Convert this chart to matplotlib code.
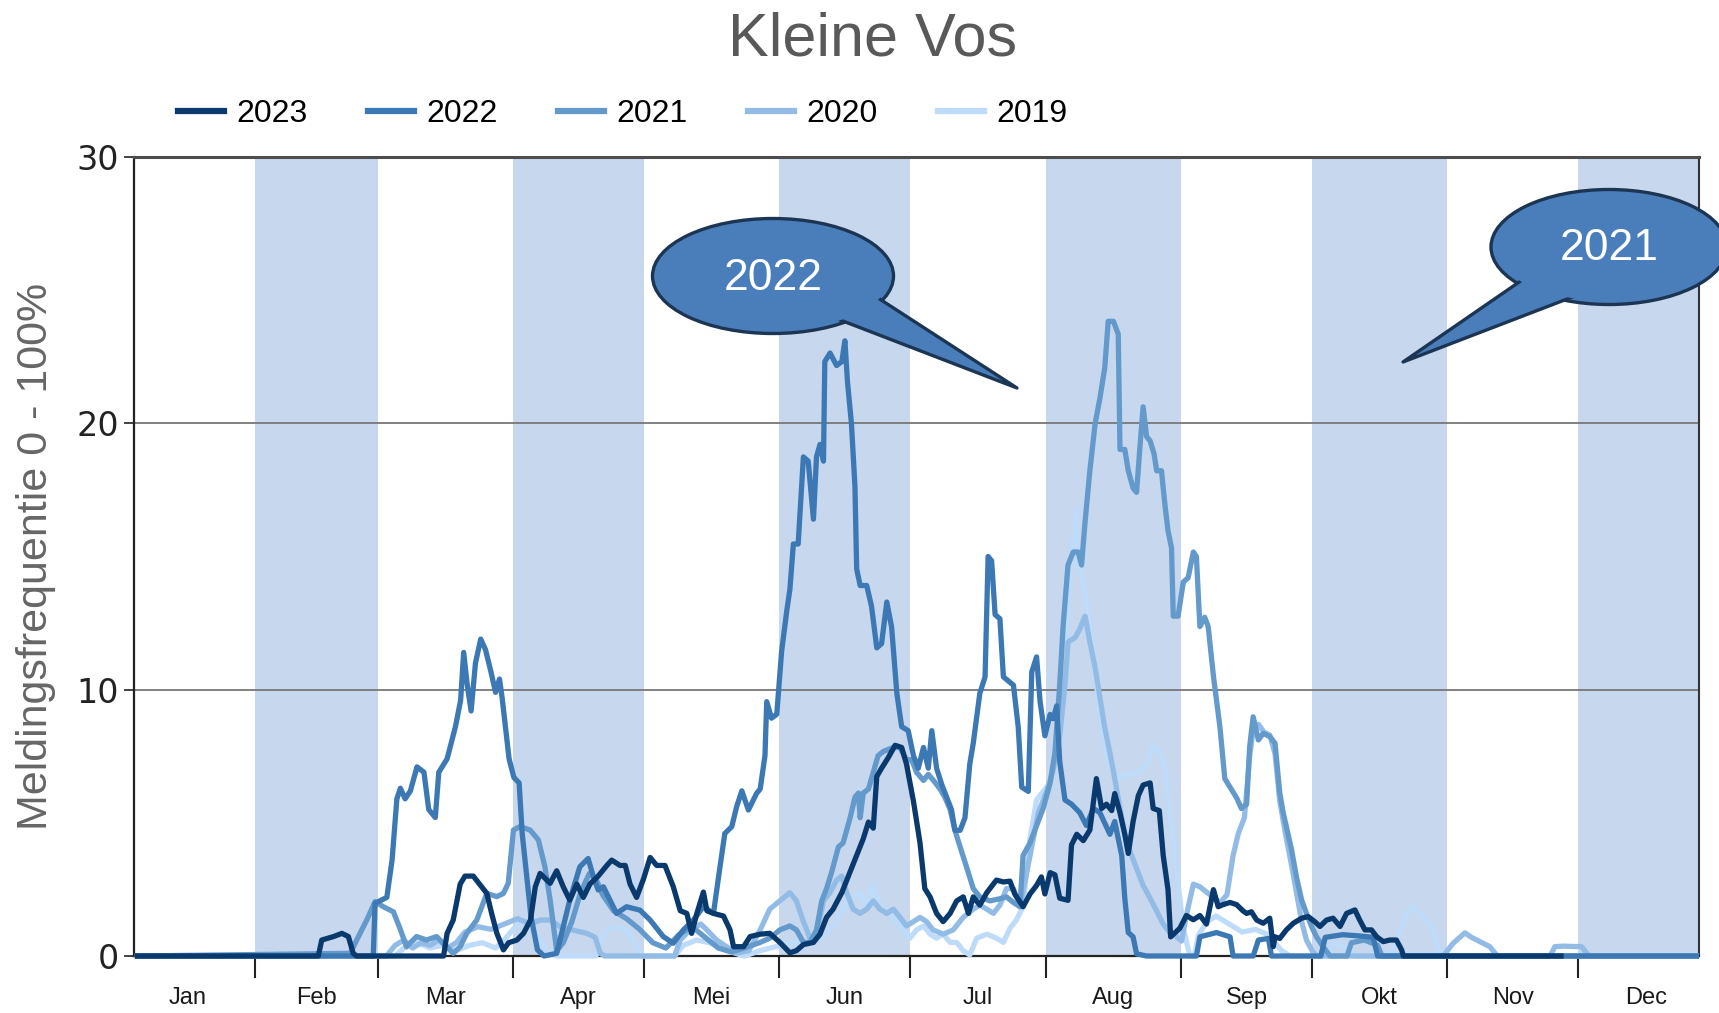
import numpy as np
import matplotlib
matplotlib.use('Agg')
import matplotlib.pyplot as plt
from matplotlib import font_manager
from matplotlib.lines import Line2D
from matplotlib.patches import Ellipse, Polygon

# (day of year, melding frequency %)
y2023 = [(5, 0), (46.4, 0), (47.2, 0.6), (49.9, 0.73), (51.8, 0.85), (53.3, 0.73), (54.4, 0.1), (55.2, 0),
         (75.1, 0), (75.9, 0.85), (77.3, 1.35), (78.9, 2.7), (80.0, 3.0), (81.9, 3.0), (83.8, 2.6), (85.0, 2.35),
         (86.1, 1.6), (87.3, 0.85), (88.8, 0.23), (90.0, 0.5), (91.9, 0.6), (93.4, 0.85), (95.0, 1.35),
         (96.1, 2.6), (97.2, 3.1), (99.5, 2.73), (101.0, 3.2), (102.5, 2.6), (104.0, 2.1), (105.6, 2.7),
         (107.1, 2.2), (108.6, 2.7), (110.5, 3.0), (112.5, 3.4), (113.6, 3.6), (115.5, 3.4), (116.7, 3.4),
         (117.8, 2.7), (119.3, 2.2), (120.9, 2.9), (122.4, 3.7), (123.9, 3.4), (125.8, 3.4), (127.7, 2.6),
         (129.3, 1.7), (130.8, 1.6), (131.9, 0.85), (133.1, 1.6), (134.6, 2.4), (135.4, 1.7), (136.9, 1.6),
         (139.2, 1.5), (140.7, 0.98), (141.5, 0.35), (143.8, 0.35), (145.3, 0.73), (147.6, 0.82), (149.8, 0.85),
         (152.1, 0.51), (154.4, 0.12), (155.9, 0.2), (157.5, 0.43), (159.8, 0.51), (161.3, 0.82), (162.8, 1.45),
         (164.3, 1.76), (166.3, 2.38), (168.2, 3.16), (169.7, 3.78), (171.2, 4.4), (172.4, 5.03), (173.5, 4.8),
         (174.3, 6.74), (175.4, 7.05), (176.9, 7.44), (178.5, 7.91), (180.0, 7.83), (181.1, 7.21), (182.7, 5.81),
         (184.2, 4.25), (185.3, 2.53), (186.5, 2.22), (188.0, 1.6), (189.5, 1.29), (191.1, 1.6), (192.6, 2.07),
         (194.1, 2.22), (195.3, 1.6), (196.4, 2.22), (197.9, 1.91), (199.5, 2.38), (201.7, 2.85), (203.3, 2.78),
         (204.8, 2.81), (205.9, 2.33), (207.8, 1.85), (209.4, 2.33), (210.9, 2.65), (212.0, 2.97), (212.8, 2.33),
         (214.0, 3.13), (215.1, 3.05), (216.2, 2.17), (218.1, 2.09), (218.9, 4.17), (220.1, 4.57), (221.6, 4.33),
         (223.1, 4.73), (224.6, 6.66), (225.8, 5.54), (226.9, 5.7), (228.1, 5.46), (228.8, 6.1), (230.0, 5.38),
         (231.1, 4.57), (231.9, 3.85), (233.0, 5.05), (234.2, 6.02), (235.3, 6.42), (236.9, 6.5), (237.6, 5.54),
         (239.0, 5.46), (239.9, 3.77), (241.0, 2.49), (241.6, 0.72), (243.7, 1.04), (245.2, 1.52), (246.8, 1.36),
         (248.3, 1.52), (249.8, 1.2), (251.4, 2.49), (252.5, 1.85), (253.6, 1.93), (255.2, 2.01), (256.7, 1.93),
         (258.2, 1.69), (259.0, 1.6), (260.1, 1.66), (261.3, 1.35), (262.8, 1.23), (264.3, 1.42), (265.1, 0.35),
         (265.5, 0.72), (266.6, 0.66), (268.1, 0.98), (269.7, 1.23), (271.6, 1.42), (273.1, 1.48), (274.6, 1.29),
         (275.8, 1.11), (277.3, 1.35), (278.8, 1.42), (280.4, 1.11), (281.9, 1.6), (283.8, 1.73), (284.9, 1.35),
         (286.1, 0.98), (287.6, 0.98), (288.8, 0.72), (290.3, 0.54), (291.8, 0.6), (293.3, 0.6), (294.5, 0.23),
         (294.9, 0), (331, 0)]

y2022 = [(5, 0), (59.0, 0), (59.4, 1.98), (62.1, 2.2), (63.3, 3.6), (64.4, 5.9), (65.2, 6.3), (66.3, 5.9),
         (67.5, 6.2), (69.0, 7.1), (70.6, 6.9), (71.7, 5.5), (73.2, 5.2), (74.0, 6.9), (75.9, 7.4), (77.8, 8.6),
         (79.0, 9.6), (79.7, 11.4), (80.5, 10.2), (81.4, 9.2), (82.4, 11.0), (83.6, 11.9), (84.7, 11.5),
         (85.9, 10.7), (87.0, 9.9), (87.9, 10.4), (88.5, 9.7), (90.1, 7.4), (91.2, 6.7), (92.4, 6.5), (93.1, 4.6),
         (95.1, 1.5), (96.6, 0.23), (98.1, 0), (101.0, 0.1), (104.0, 2.1), (106.3, 3.35), (108.2, 3.66),
         (109.4, 2.98), (110.5, 2.48), (111.7, 2.6), (113.2, 2.1), (114.7, 1.6), (117.0, 1.85), (120.1, 1.72),
         (122.4, 1.35), (125.4, 0.73), (127.7, 0.48), (130.0, 0.98), (132.3, 1.35), (134.6, 1.85), (136.9, 1.6),
         (138.4, 3.35), (139.5, 4.6), (141.1, 4.86), (142.2, 5.6), (143.4, 6.2), (144.9, 5.48), (146.8, 6.11),
         (147.6, 6.27), (148.7, 7.52), (149.1, 9.55), (150.2, 8.93), (151.4, 9.08), (152.5, 11.42), (153.7, 12.97),
         (154.4, 13.76), (155.2, 15.47), (156.3, 15.47), (157.5, 18.74), (158.6, 18.58), (159.8, 16.4),
         (160.5, 18.74), (161.3, 19.21), (162.1, 18.58), (162.4, 22.32), (163.6, 22.64), (165.1, 22.17),
         (166.3, 22.32), (167.0, 23.1), (167.6, 21.55), (168.5, 19.99), (169.3, 17.65), (169.7, 14.53),
         (170.5, 13.91), (172.0, 13.91), (173.1, 13.13), (174.3, 11.57), (175.4, 11.73), (176.6, 13.29),
         (177.7, 12.35), (178.9, 9.86), (180.0, 8.61), (181.5, 8.46), (182.7, 7.52), (183.8, 7.05), (185.0, 7.83),
         (186.1, 7.05), (186.9, 8.46), (188.0, 7.05), (189.2, 6.43), (190.3, 5.96), (191.4, 5.5), (192.2, 4.72),
         (193.4, 4.72), (194.5, 5.19), (195.6, 7.21), (196.4, 7.99), (197.9, 9.86), (199.1, 10.48), (199.8, 15.0),
         (200.6, 14.84), (201.4, 12.82), (202.5, 12.66), (203.3, 10.48), (205.6, 10.17), (206.7, 8.59),
         (207.5, 6.34), (209.0, 6.18), (209.8, 10.67), (210.9, 11.23), (211.7, 9.55), (212.8, 8.27), (214.0, 9.07),
         (214.7, 8.91), (215.5, 9.39), (216.2, 7.3), (217.4, 5.86), (218.9, 5.7), (220.8, 5.38), (222.3, 4.9),
         (223.9, 5.54), (225.4, 5.38), (227.7, 4.57), (228.8, 5.05), (230.4, 3.77), (231.1, 2.17), (231.9, 0.88),
         (233.0, 0.72), (233.8, 0.08), (236.1, 0), (247.5, 0), (248.3, 0.72), (252.1, 0.88), (255.2, 0.72),
         (255.9, 0), (260.5, 0), (261.7, 0.6), (264.0, 0.66), (264.7, 0), (276.0, 0), (277.0, 0.7), (281, 0.8),
         (285, 0.75), (288, 0.7), (289, 0), (362, 0)]

y2021 = [(5, 0), (53.7, 0.1), (55.6, 0.73), (57.5, 1.35), (59.4, 2.04), (61.3, 1.85), (63.6, 1.66), (65.1, 1.04),
         (66.6, 0.35), (68.9, 0.73), (71.2, 0.6), (73.5, 0.73), (75.8, 0.35), (77.3, 0.1), (78.9, 0.35),
         (80.4, 0.85), (82.7, 1.35), (85.0, 2.35), (87.3, 2.23), (88.8, 2.35), (89.9, 2.73), (91.1, 4.73),
         (92.6, 4.86), (94.9, 4.73), (96.8, 4.36), (98.3, 3.35), (99.5, 2.1), (101.0, 0.2), (102.5, 0.5),
         (104.5, 1.3), (106.5, 2.4), (108.5, 3.1), (110.0, 2.9), (111.5, 2.3), (114.0, 1.7), (117.0, 1.4),
         (120.0, 1.0), (123.0, 0.5), (126.0, 0.3), (129.0, 0.8), (132.0, 1.1), (135.0, 0.7), (138.0, 0.3),
         (141.0, 0.15), (144.0, 0.3), (147.6, 0.51), (149.8, 0.67), (152.1, 0.98), (154.4, 1.13), (155.9, 0.98),
         (157.5, 0.51), (159.0, 0.51), (160.5, 0.98), (161.7, 2.07), (162.8, 2.53), (164.0, 3.16), (165.5, 4.09),
         (166.6, 4.25), (168.2, 5.19), (169.3, 5.96), (170.1, 6.12), (170.5, 5.19), (171.2, 6.12), (172.4, 6.27),
         (173.5, 6.9), (174.6, 7.52), (175.8, 7.68), (176.9, 7.75), (178.1, 7.83), (179.6, 7.83), (181.1, 7.37),
         (182.3, 7.37), (183.4, 6.9), (185.0, 6.59), (186.1, 6.82), (187.3, 6.59), (188.8, 6.27), (189.9, 5.96),
         (191.1, 5.5), (192.2, 4.72), (193.4, 4.09), (194.9, 3.32), (196.4, 2.53), (197.9, 2.22), (200.2, 2.07),
         (202.5, 2.15), (204.0, 2.22), (205.6, 2.01), (207.1, 1.85), (207.8, 3.77), (209.4, 4.25), (210.9, 4.9),
         (212.4, 5.54), (214.0, 6.5), (215.1, 7.62), (216.2, 10.19), (217.0, 12.44), (218.1, 14.68),
         (219.3, 15.17), (220.4, 15.17), (221.2, 14.68), (222.0, 16.29), (223.1, 18.22), (224.3, 19.98),
         (225.4, 20.94), (226.5, 22.07), (227.3, 23.83), (228.5, 23.83), (229.6, 23.35), (230.0, 19.02),
         (231.1, 19.02), (231.9, 18.22), (233.0, 17.57), (233.8, 17.41), (234.6, 19.18), (235.3, 20.62),
         (236.1, 19.5), (236.9, 19.34), (237.8, 18.86), (238.4, 18.22), (239.5, 18.22), (240.3, 16.93),
         (241.0, 15.97), (241.8, 15.32), (242.2, 12.76), (243.3, 12.76), (244.5, 14.04), (245.6, 14.2),
         (246.8, 15.17), (247.5, 15.0), (248.3, 12.37), (249.4, 12.72), (250.2, 12.37), (251.4, 10.51),
         (252.9, 8.58), (254.0, 6.66), (255.2, 6.34), (256.7, 5.94), (257.8, 5.54), (259.0, 5.7), (259.7, 7.86),
         (260.5, 8.98), (261.7, 8.11), (262.8, 8.36), (264.3, 8.24), (265.5, 7.99), (266.6, 6.11), (267.4, 5.36),
         (268.1, 4.86), (269.3, 3.98), (270.4, 2.98), (271.6, 2.1), (272.7, 1.6), (273.9, 1.1), (275.0, 0.72),
         (276.5, 0.35), (278.1, 0), (282, 0), (283, 0.5), (286, 0.6), (289, 0.4), (290, 0), (362, 0)]

y2020 = [(5, 0), (62, 0), (64, 0.4), (66, 0.6), (68, 0.3), (70, 0.5), (72, 0.4), (74, 0.6), (76, 0.3), (78, 0.5),
         (80, 0.9), (83, 1.1), (86, 1.0), (89, 1.2), (92, 1.4), (95, 1.2), (97.2, 1.35), (99.5, 1.35),
         (101.8, 1.1), (104.0, 1.0), (107.9, 0.85), (109.8, 0.7), (111.0, 0.1), (112, 0), (128, 0), (129.3, 0.6),
         (131.5, 0.98), (134.0, 1.2), (135.4, 0.98), (137.6, 0.6), (139.9, 0.35), (142, 0.1), (145, 0.2),
         (147.6, 0.98), (149.8, 1.76), (152.1, 2.07), (154.4, 2.38), (155.9, 2.07), (157.5, 1.29), (159.0, 0.67),
         (160.5, 0.82), (162.1, 2.07), (163.6, 2.38), (165.1, 2.85), (166.3, 3.0), (167.4, 2.38), (168.9, 1.76),
         (170.5, 1.6), (172.0, 1.76), (173.5, 2.07), (175.0, 1.76), (176.6, 1.6), (178.1, 1.76), (179.6, 1.45),
         (181.1, 1.13), (182.7, 1.29), (184.2, 1.45), (185.7, 1.29), (187.2, 0.98), (189.5, 0.82), (191.8, 0.98),
         (194.1, 1.45), (196.4, 1.76), (197.9, 1.91), (199.5, 1.76), (201.0, 1.6), (202.5, 1.91), (204.0, 2.53),
         (205.6, 2.53), (207.1, 1.85), (209.4, 3.77), (211.3, 5.38), (213.2, 6.18), (214.7, 6.98), (216.2, 8.27),
         (217.4, 10.19), (218.1, 11.79), (219.7, 11.95), (220.8, 12.28), (222.0, 12.76), (223.1, 11.79),
         (224.3, 10.83), (225.4, 9.71), (226.5, 8.58), (227.7, 7.62), (228.8, 6.66), (230.0, 5.54), (231.1, 4.57),
         (232.3, 3.93), (233.8, 3.29), (235.3, 2.65), (236.9, 2.17), (238.4, 1.69), (239.9, 1.2), (241.4, 0.88),
         (243.0, 0.72), (244.1, 0.56), (245.2, 1.52), (246.8, 2.7), (248.3, 2.6), (249.8, 2.4), (251.4, 2.2),
         (252.9, 2.0), (254.5, 2.3), (255.9, 3.77), (257.1, 4.6), (258.5, 5.2), (259.7, 7.5), (260.6, 8.6),
         (261.7, 8.7), (263.0, 8.4), (264.3, 8.3), (265.5, 7.6), (266.6, 5.8), (268.0, 4.5), (269.3, 3.4),
         (270.4, 2.4), (271.6, 1.3), (272.7, 0.6), (274, 0.2), (275, 0), (304, 0), (304.8, 0.16), (306.3, 0.48),
         (309.0, 0.87), (310.5, 0.7), (312.4, 0.54), (314.7, 0.35), (315.9, 0.1), (316.5, 0), (328.5, 0),
         (329.6, 0.35), (331.5, 0.37), (335.7, 0.35), (336.9, 0.1), (337.5, 0), (362, 0)]

y2019 = [(5, 0), (64, 0), (66, 0.3), (69, 0.5), (72, 0.3), (75, 0.4), (78, 0.2), (81, 0.4), (84, 0.5), (87, 0.3),
         (89, 0.6), (91, 1.0), (93, 1.3), (95, 1.1), (97, 0.6), (99, 0.2), (101, 0), (110, 0), (111.7, 0.85),
         (114.0, 1.1), (117.0, 0.98), (119.3, 0.35), (120.1, 0.1), (121, 0), (128, 0), (130, 0.4), (133, 0.6),
         (136, 0.5), (139, 0.3), (142, 0.1), (144, 0), (147.6, 0.2), (151.4, 0.36), (155.2, 0.51), (159.0, 0.43),
         (162.8, 0.82), (165.1, 1.29), (167.4, 2.07), (168.9, 2.22), (170.5, 2.38), (172.0, 1.76), (173.5, 2.69),
         (174.6, 2.07), (175.8, 1.76), (177.3, 1.6), (178.9, 1.29), (180.4, 0.98), (181.9, 0.67), (183.4, 0.98),
         (185.0, 1.13), (186.5, 0.82), (188.0, 0.67), (189.5, 0.82), (191.1, 0.51), (192.6, 0.51), (194.1, 0.2),
         (195.6, 0.04), (197.2, 0.67), (199.5, 0.82), (201.7, 0.67), (203.3, 0.51), (204.8, 1.04), (206.3, 1.36),
         (207.8, 1.85), (209.4, 4.41), (210.9, 5.86), (212.4, 6.18), (214.0, 6.5), (215.5, 7.62), (217.0, 10.19),
         (218.5, 14.36), (219.3, 15.65), (219.9, 16.77), (220.4, 15.0), (221.2, 14.2), (222.3, 13.4),
         (223.5, 11.79), (224.6, 10.19), (225.8, 8.75), (226.9, 7.62), (228.1, 6.98), (229.6, 6.66), (231.5, 6.82),
         (233.0, 6.82), (234.6, 6.98), (236.1, 7.14), (237.6, 7.94), (239.1, 7.62), (240.3, 6.98), (241.4, 5.38),
         (242.6, 3.77), (243.7, 2.17), (244.5, 1.04), (245.2, 0.56), (246.0, 0), (247, 0), (248, 0.8), (250, 1.3),
         (252, 1.5), (255, 1.2), (258, 0.9), (261, 1.0), (264, 0.8), (267, 0.2), (269, 0), (277, 0), (279, 0.5),
         (282, 0.3), (284, 0), (292, 0), (292.6, 0.35), (294.1, 0.85), (295.6, 1.6), (297.1, 1.85), (298.7, 1.6),
         (300.2, 1.35), (301.4, 1.1), (302.5, 0.48), (303.6, 0), (362, 0)]

years = ['2023', '2022', '2021', '2020', '2019']
series = {'2023': y2023, '2022': y2022, '2021': y2021, '2020': y2020, '2019': y2019}
colors = {'2023': '#0a3a6d', '2022': '#3b78b4', '2021': '#6399cb', '2020': '#92bce6', '2019': '#bedcf9'}

month_names = ['Jan', 'Feb', 'Mar', 'Apr', 'Mei', 'Jun', 'Jul', 'Aug', 'Sep', 'Okt', 'Nov', 'Dec']
month_starts = [1, 32, 60, 91, 121, 152, 182, 213, 244, 274, 305, 335, 366]
y_ticks = [0, 10, 20, 30]

W, H = 1719, 1013


def fx(px):
    return px / W


def fy(py):
    return 1 - py / H


installed = {f.name for f in font_manager.fontManager.ttflist}
HAS_NARROW = 'Liberation Sans Narrow' in installed
NARROW = 'Liberation Sans Narrow' if HAS_NARROW else 'Liberation Sans'

fig = plt.figure(figsize=(W / 100, H / 100), dpi=100)
ax = fig.add_axes([fx(134), fy(956), (1699 - 134) / W, (956 - 157) / H])

# alternating month bands
for i in range(1, 12, 2):
    ax.axvspan(month_starts[i], month_starts[i + 1], color='#c7d7ed', lw=0, zorder=0)

for y in y_ticks[1:3]:
    ax.axhline(y, color='#777777', lw=1.3, zorder=1)

for yr in ['2019', '2020', '2021', '2022', '2023']:
    d = np.array(series[yr])
    ax.plot(d[:, 0], d[:, 1], color=colors[yr], lw=3.8, solid_joinstyle='round',
            clip_on=False, zorder=3)

ax.set_xlim(4.2, 362.6)
ax.set_ylim(0, 30)

ax.set_yticks(y_ticks)
ax.set_yticklabels([str(t) for t in y_ticks], fontsize=24, color='#222222', family='DejaVu Sans')
ax.tick_params(axis='y', direction='out', length=7, width=1.2, pad=4, color='#222222')

ax.set_xticks(month_starts[1:12])
ax.set_xticklabels([])
ax.tick_params(axis='x', which='major', direction='out', length=16, width=1.5, color='#222222')
mids = [(month_starts[i] + month_starts[i + 1]) / 2 for i in range(12)]
ax.set_xticks(mids, minor=True)
ax.set_xticklabels(month_names, minor=True, fontsize=17, color='#1a1a1a', family='Liberation Sans')
ax.tick_params(axis='x', which='minor', length=0, pad=22)

for side in ['left', 'bottom']:
    ax.spines[side].set_color('#222222')
    ax.spines[side].set_linewidth(1.6)
ax.spines['top'].set_color('#4d4d4d')
ax.spines['top'].set_linewidth(2.2)
ax.spines['right'].set_color('#333333')
ax.spines['right'].set_linewidth(1.5)

fig.text(fx(873), fy(40), 'Kleine Vos', ha='center', va='center', fontsize=44,
         color='#595959', family='Liberation Sans')
fig.text(fx(36), fy(556), 'Meldingsfrequentie 0 - 100%', rotation=90, ha='center', va='center',
         fontsize=31, color='#666666', family='Liberation Sans')

# legend
handles = [Line2D([], [], color=colors[yr], lw=4.5) for yr in years]
colspace = 2.3 if HAS_NARROW else 1.9
fig.legend(handles, years, loc='center left', bbox_to_anchor=(fx(178), fy(114)), ncol=5,
           frameon=False, borderpad=0, borderaxespad=0, handlelength=1.44, handletextpad=0.38,
           columnspacing=colspace, prop={'family': NARROW, 'size': 23})


def bubble(center, size, base, tip, label):
    fill, edge = '#4a7ebb', '#1b3553'
    (cx, cy), (w, h) = center, size
    fig.add_artist(Ellipse((fx(cx), fy(cy)), w / W, h / H, transform=fig.transFigure,
                           fc=fill, ec=edge, lw=2.4, zorder=10))
    pts = [(fx(base[0][0]), fy(base[0][1])), (fx(tip[0]), fy(tip[1])), (fx(base[1][0]), fy(base[1][1]))]
    fig.add_artist(Polygon(pts, closed=True, transform=fig.transFigure, fc=fill, ec=edge, lw=2.4,
                           joinstyle='round', zorder=11))
    fig.add_artist(Ellipse((fx(cx), fy(cy)), (w - 7) / W, (h - 7) / H, transform=fig.transFigure,
                           fc=fill, ec='none', zorder=12))
    fig.text(fx(cx), fy(cy + 2), label, ha='center', va='center', fontsize=36 if HAS_NARROW else 32,
             color='white', family=NARROW, zorder=13)


bubble((773, 276), (241, 115), [(835, 318), (875, 296)], (1017, 388), '2022')
bubble((1609, 247), (236, 115), [(1525, 278), (1575, 296)], (1403, 362), '2021')

fig.savefig('out.png', dpi=100)
